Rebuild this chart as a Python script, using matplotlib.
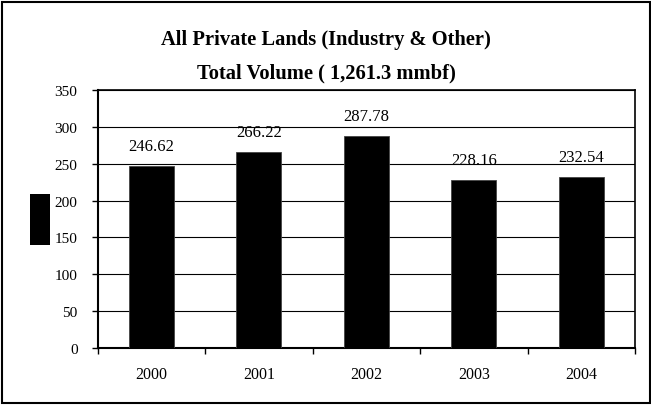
import matplotlib
matplotlib.use("Agg")
import matplotlib.pyplot as plt
from matplotlib.patches import Rectangle
from matplotlib.ticker import FixedLocator

years = ["2000", "2001", "2002", "2003", "2004"]
volumes = [246.62, 266.22, 287.78, 228.16, 232.54]
value_labels = ["246.62", "266.22", "287.78", "228.16", "232.54"]
y_ticks = [0, 50, 100, 150, 200, 250, 300, 350]

plt.rcParams['font.family'] = ['Liberation Serif', 'DejaVu Serif']

fig = plt.figure(figsize=(6.51, 4.06), dpi=100)
ax = fig.add_axes([97.7 / 651, 1 - 349 / 406, (635 - 97.7) / 651, (349 - 91) / 406])

x = list(range(len(years)))
ax.bar(x, volumes, width=0.42, color='black', edgecolor='#444444', linewidth=0.6, zorder=3)

for xi, v, lab in zip(x, volumes, value_labels):
    ax.annotate(lab, (xi, v), xytext=(0, 8.5), textcoords='offset points',
                ha='center', va='bottom', fontsize=12, zorder=4)

ax.set_xlim(-0.5, len(years) - 0.5)
ax.set_ylim(0, 350)
ax.set_yticks(y_ticks)
ax.yaxis.grid(True, color='black', linewidth=0.8, zorder=0)
ax.set_axisbelow(True)

ax.set_xticks(x)
ax.set_xticklabels(years, fontsize=11.5)
ax.xaxis.set_minor_locator(FixedLocator([i - 0.5 for i in range(len(years) + 1)]))
ax.tick_params(axis='x', which='major', length=0, pad=13)
ax.tick_params(axis='x', which='minor', length=4, width=1, direction='out')
ax.tick_params(axis='y', length=4, width=1, direction='out', pad=10.5, labelsize=11)

for side in ['left', 'bottom']:
    ax.spines[side].set_linewidth(1.5)
for side in ['top', 'right']:
    ax.spines[side].set_linewidth(1.2)

fig.text(0.5008, 1 - 40 / 406, "All Private Lands (Industry & Other)",
         ha='center', va='center', fontsize=14.8, fontweight='bold')
fig.text(0.5008, 1 - 73 / 406, "Total Volume ( 1,261.3 mmbf)",
         ha='center', va='center', fontsize=14.8, fontweight='bold')

# black block on the left (covered axis label)
fig.patches.append(Rectangle((30 / 651, 160 / 406), 20 / 651, 51 / 406,
                             transform=fig.transFigure, facecolor='black', edgecolor='none'))

# outer frame
fig.patches.append(Rectangle((2 / 651, 2 / 406), 648 / 651, 401 / 406,
                             transform=fig.transFigure, fill=False, edgecolor='black', linewidth=1.5))

fig.savefig("out.png", dpi=100)
